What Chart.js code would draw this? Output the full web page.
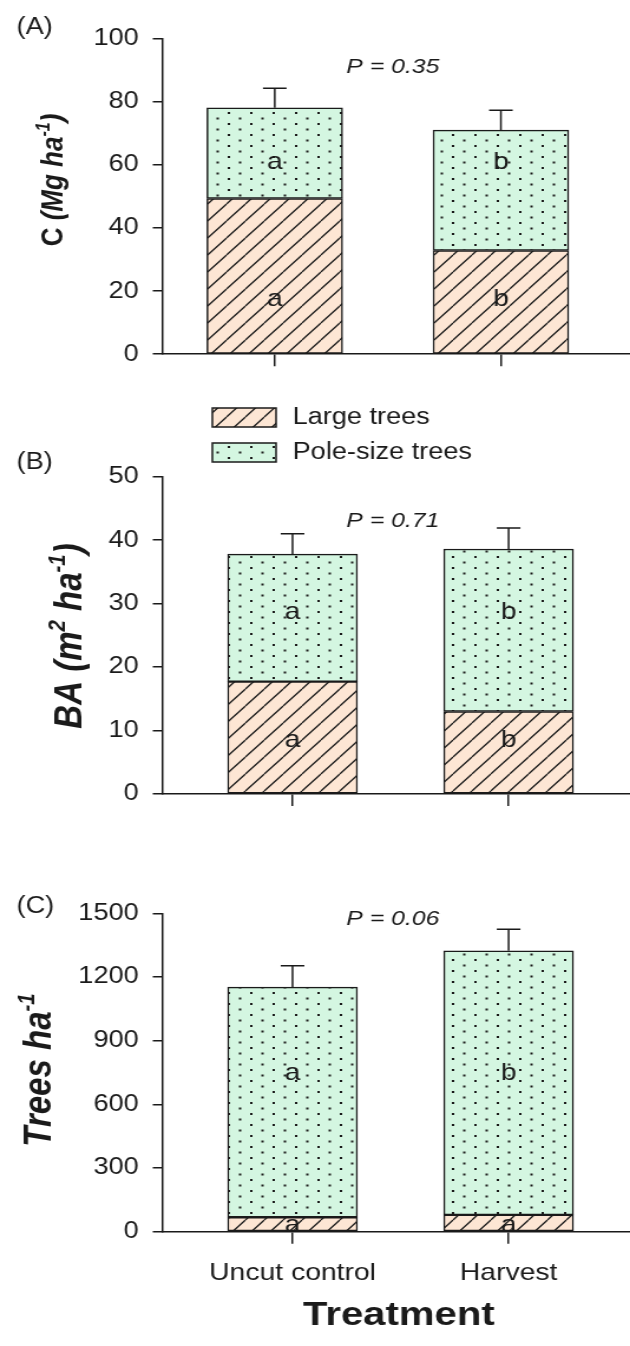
<!DOCTYPE html>
<html>
<head>
<meta charset="utf-8">
<script src="https://cdn.jsdelivr.net/npm/chart.js@4.4.0/dist/chart.umd.min.js"></script>
<style>
  body { margin: 0; background: #fff; overflow: hidden; }
  #wrap { position: relative; width: 630px; height: 1346px; }
  /* the source figure is stretched sideways; draw at 534px and widen */
  .panel { position: absolute; left: 0; width: 534px; transform: scaleX(1.1798); transform-origin: 0 0; }
</style>
</head>
<body>
<div id="wrap">
  <div class="panel" style="top:0;height:380px"><canvas id="chartA"></canvas></div>
  <div class="panel" style="top:400px;height:430px"><canvas id="chartB"></canvas></div>
  <div class="panel" style="top:880px;height:466px"><canvas id="chartC"></canvas></div>
</div>
<script>
"use strict";

const categories = ["Uncut control", "Harvest"];
const seriesNames = ["Large trees", "Pole-size trees"];

// (A) carbon, Mg ha-1
const largeCarbon = [49.4, 32.9];
const poleCarbon = [28.8, 38.2];
const seCarbon = [6.2, 6.3];
const ticksCarbon = [0, 20, 40, 60, 80, 100];
const lettersCarbon = [["a", "b"], ["a", "b"]];

// (B) basal area, m2 ha-1
const largeBA = [17.7, 13.0];
const poleBA = [20.1, 25.6];
const seBA = [3.2, 3.3];
const ticksBA = [0, 10, 20, 30, 40, 50];
const lettersBA = [["a", "b"], ["a", "b"]];

// (C) stem density, trees ha-1
const largeTrees = [68, 79];
const poleTrees = [1084, 1244];
const seTrees = [101, 102];
const ticksTrees = [0, 300, 600, 900, 1200, 1500];
const lettersTrees = [["a", "a"], ["a", "b"]];

const pValues = ["P = 0.35", "P = 0.71", "P = 0.06"];

const INK = "#1a1a1a";
const FONT = "'Liberation Sans', Arial, sans-serif";
const AXIS_W = 138;

function makeHatch() {
  let c = document.createElement("canvas");
  c.width = 16;
  c.height = 17;
  let g = c.getContext("2d");
  g.fillStyle = "#fde6d4";
  g.fillRect(0, 0, 16, 17);
  g.strokeStyle = INK;
  g.lineWidth = 1.3;
  g.beginPath();
  g.moveTo(0, 17); g.lineTo(16, 0);
  g.moveTo(-16, 17); g.lineTo(0, 0);
  g.moveTo(16, 17); g.lineTo(32, 0);
  g.stroke();
  return g.createPattern(c, "repeat");
}

function makeDots() {
  let c = document.createElement("canvas");
  c.width = 19;
  c.height = 11;
  let g = c.getContext("2d");
  g.fillStyle = "#d4f6e1";
  g.fillRect(0, 0, 19, 11);
  g.fillStyle = INK;
  g.fillRect(3, 2, 2, 2);
  g.fillRect(12.5, 7.5, 2, 2);
  return g.createPattern(c, "repeat");
}

const hatch = makeHatch();
const dots = makeDots();

// bold / italic pieces with superscripts, optionally rotated
function drawRich(ctx, parts, x, y, size, rotate) {
  function fontFor(p) {
    let s = p[1] === "s" ? size * 0.62 : size;
    let it = p[1] === "n" ? "" : "italic ";
    return it + "bold " + s + "px " + FONT;
  }
  ctx.save();
  ctx.translate(x, y);
  if (rotate) ctx.rotate(-Math.PI / 2);
  ctx.fillStyle = INK;
  ctx.textAlign = "left";
  ctx.textBaseline = "alphabetic";
  let widths = parts.map(p => { ctx.font = fontFor(p); return ctx.measureText(p[0]).width; });
  let cx = -widths.reduce((a, b) => a + b, 0) / 2;
  parts.forEach((p, i) => {
    ctx.font = fontFor(p);
    let dy = p[1] === "s" ? size * 0.36 - size * 0.42 : size * 0.36;
    ctx.fillText(p[0], cx, dy);
    cx += widths[i];
  });
  ctx.restore();
}

function makeExtras(cfg) {
  return {
    id: "extras" + cfg.tag,
    afterDraw(chart) {
      const ctx = chart.ctx;
      const ys = chart.scales.y;
      const area = chart.chartArea;
      const topMeta = chart.getDatasetMeta(1);

      // error bars (upper only)
      ctx.save();
      ctx.strokeStyle = INK;
      ctx.lineWidth = 1.5;
      topMeta.data.forEach((bar, i) => {
        let total = cfg.large[i] + cfg.pole[i];
        let yErr = ys.getPixelForValue(total + cfg.se[i]);
        ctx.beginPath();
        ctx.moveTo(bar.x, bar.y);
        ctx.lineTo(bar.x, yErr);
        ctx.moveTo(bar.x - 10, yErr);
        ctx.lineTo(bar.x + 10, yErr);
        ctx.stroke();
      });
      ctx.restore();

      // significance letters
      ctx.save();
      ctx.fillStyle = INK;
      ctx.font = "24px " + FONT;
      ctx.textAlign = "center";
      ctx.textBaseline = "middle";
      topMeta.data.forEach((bar, i) => {
        ctx.fillText(cfg.letters[0][i], bar.x, ys.getPixelForValue(cfg.letterLevels[0]));
        ctx.fillText(cfg.letters[1][i], bar.x, ys.getPixelForValue(cfg.letterLevels[1]));
      });

      ctx.font = "italic 21px " + FONT;
      ctx.fillText(cfg.pText, (area.left + area.right) / 2 - 3, ys.getPixelForValue(cfg.pLevel));

      ctx.font = "23px " + FONT;
      ctx.textAlign = "left";
      ctx.fillText(cfg.panel, 14, cfg.panelY);
      ctx.restore();

      drawRich(ctx, cfg.title, cfg.titleX, cfg.titleY, cfg.titleSize, true);

      if (cfg.legend) {
        const fills = [hatch, dots];
        ctx.save();
        seriesNames.forEach((name, i) => {
          let top = 8 + i * 35;
          ctx.fillStyle = fills[i];
          ctx.fillRect(180, top, 54, 19);
          ctx.strokeStyle = INK;
          ctx.lineWidth = 1.5;
          ctx.strokeRect(180, top, 54, 19);
          ctx.fillStyle = INK;
          ctx.font = "23px " + FONT;
          ctx.textAlign = "left";
          ctx.textBaseline = "middle";
          ctx.fillText(name, 248, top + 10);
        });
        ctx.restore();
      }

      if (cfg.xTitle) {
        drawRich(ctx, [[cfg.xTitle, "n"]], 338, 433, 34, false);
      }
    }
  };
}

function buildPanel(id, cfg) {
  const barStyle = {
    borderColor: INK,
    borderWidth: 1.5,
    borderSkipped: false,
    barThickness: cfg.barWidth,
    stack: "trees",
  };
  return new Chart(document.getElementById(id), {
    type: "bar",
    data: {
      datasets: [
        Object.assign({ label: seriesNames[0], data: cfg.large.map((v, i) => ({ x: i + 1, y: v })), backgroundColor: hatch }, barStyle),
        Object.assign({ label: seriesNames[1], data: cfg.pole.map((v, i) => ({ x: i + 1, y: v })), backgroundColor: dots }, barStyle),
      ],
    },
    options: {
      responsive: true,
      maintainAspectRatio: false,
      animation: false,
      layout: { padding: { top: cfg.padTop, right: 0, left: 0, bottom: 0 } },
      plugins: { legend: { display: false }, tooltip: { enabled: false } },
      scales: {
        x: {
          type: "linear",
          offset: false,
          min: cfg.xMin,
          max: cfg.xMax,
          afterBuildTicks: s => { s.ticks = categories.map((c, i) => ({ value: i + 1 })); },
          afterFit: s => { s.height = cfg.xHeight; },
          grid: { offset: false, drawOnChartArea: false, tickLength: 12, color: INK, lineWidth: 1.5 },
          border: { color: INK, width: 1.5 },
          ticks: {
            display: !!cfg.showCategories,
            callback: v => categories[v - 1],
            autoSkip: false,
            maxRotation: 0,
            padding: 15,
            color: INK,
            font: { family: FONT, size: 24 },
          },
        },
        y: {
          stacked: true,
          min: cfg.ticks[0],
          max: cfg.ticks[cfg.ticks.length - 1],
          afterBuildTicks: s => { s.ticks = cfg.ticks.map(v => ({ value: v })); },
          afterFit: s => { s.width = AXIS_W; },
          grid: { drawOnChartArea: false, tickLength: 8.5, color: INK, lineWidth: 1.5 },
          border: { color: INK, width: 1.5 },
          ticks: { padding: 12, color: INK, font: { family: FONT, size: 23 }, callback: v => String(v) },
        },
      },
    },
    plugins: [makeExtras(cfg)],
  });
}

buildPanel("chartA", {
  tag: "A", large: largeCarbon, pole: poleCarbon, se: seCarbon, ticks: ticksCarbon,
  letters: lettersCarbon, letterLevels: [17.3, 61], pText: pValues[0], pLevel: 91,
  panel: "(A)", panelY: 28,
  title: [["C ", "n"], ["(Mg ha", "i"], ["-1", "s"], [")", "i"]], titleX: 44, titleY: 180, titleSize: 26,
  padTop: 39, xHeight: 23, xMin: 0.505, xMax: 2.571, barWidth: 115,
});

buildPanel("chartB", {
  tag: "B", large: largeBA, pole: poleBA, se: seBA, ticks: ticksBA,
  letters: lettersBA, letterLevels: [8.5, 28.6], pText: pValues[1], pLevel: 43,
  panel: "(B)", panelY: 63, legend: true,
  title: [["BA (m", "i"], ["2", "s"], [" ha", "i"], ["-1", "s"], [")", "i"]], titleX: 57, titleY: 236, titleSize: 33,
  padTop: 76.7, xHeight: 36, xMin: 0.3995, xMax: 2.562, barWidth: 110,
});

buildPanel("chartC", {
  tag: "C", large: largeTrees, pole: poleTrees, se: seTrees, ticks: ticksTrees,
  letters: lettersTrees, letterLevels: [31, 748], pText: pValues[2], pLevel: 1473,
  panel: "(C)", panelY: 27, showCategories: true, xTitle: "Treatment",
  title: [["Trees ha", "i"], ["-1", "s"]], titleX: 31, titleY: 190, titleSize: 33,
  padTop: 33.3, xHeight: 114.3, xMin: 0.3995, xMax: 2.562, barWidth: 110,
});
</script>
</body>
</html>
